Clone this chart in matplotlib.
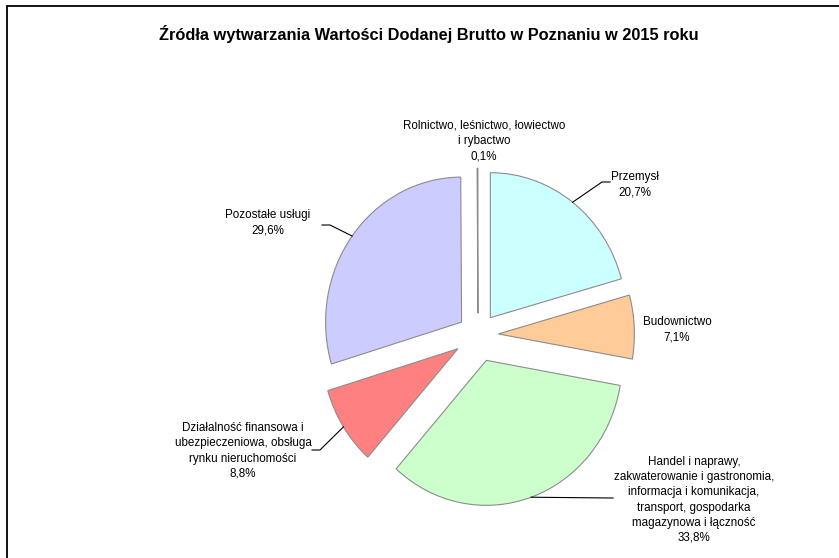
import matplotlib.pyplot as plt
import matplotlib.patches as mpatches
import numpy as np

plt.rcParams['font.family'] = ['Liberation Sans', 'DejaVu Sans']

# slices clockwise from 12 o'clock
sectors = [
    "Przemysł",
    "Budownictwo",
    "Handel i naprawy,\nzakwaterowanie i gastronomia,\ninformacja i komunikacja,\ntransport, gospodarka\nmagazynowa i łączność",
    "Działalność finansowa i\nubezpieczeniowa, obsługa\nrynku nieruchomości",
    "Pozostałe usługi",
    "Rolnictwo, leśnictwo, łowiectwo\ni rybactwo",
]
shares = [20.7, 7.1, 33.8, 8.8, 29.6, 0.1]
colors = ["#CCFFFF", "#FFCC99", "#CCFFCC", "#FF8080", "#CCCCFF", "#99CCFF"]

W, H = 839, 558
fig = plt.figure(figsize=(W / 100, H / 100), dpi=100)

# pie centre / radii in pixels (slightly taller than wide, like the original)
cx, cy = 478, 335
rx, ry = 136, 145
lim = 1.5
ax = fig.add_axes([(cx - rx * lim) / W, (H - cy - ry * lim) / H,
                   2 * rx * lim / W, 2 * ry * lim / H])

wedges, _ = ax.pie(shares, colors=colors, startangle=90, counterclock=False,
                   explode=[0.15, 0.15, 0.185, 0.175, 0.15, 0.15],
                   wedgeprops=dict(edgecolor="#8c8c8c", linewidth=0.8))
ax.set_xlim(-lim, lim)
ax.set_ylim(-lim, lim)
ax.set_aspect('auto')
ax.axis('off')

fig.text(428.5 / W, 1 - 34 / H, "Źródła wytwarzania Wartości Dodanej Brutto w Poznaniu w 2015 roku",
         ha="center", va="center", fontsize=11.8, fontweight="bold")

# label layout: text centre and leader points (pixels from top-left)
label_pos = [(635, 185), (677, 330), (694, 500), (243, 451), (268, 223), (484, 141)]
leaders = [
    [(602, 182), (610, 182)],
    None,
    [(613, 498)],
    [(320, 450), (312, 450)],
    [(330, 225), (322, 225)],
    None,
]

fig.canvas.draw()
for w, name, v, (tx, ty), lead in zip(wedges, sectors, shares, label_pos, leaders):
    txt = name + "\n" + f"{v:.1f}".replace(".", ",") + "%"
    fig.text(tx / W, 1 - ty / H, txt, ha="center", va="center",
             fontsize=8.4, linespacing=1.34)
    if lead is None:
        continue
    mid = np.deg2rad((w.theta1 + w.theta2) / 2)
    px = w.center[0] + w.r * np.cos(mid)
    py = w.center[1] + w.r * np.sin(mid)
    dx, dy = ax.transData.transform((px, py))
    xs = [dx] + [p[0] for p in lead]
    ys = [dy] + [H - p[1] for p in lead]
    fig.add_artist(plt.Line2D(xs, ys, transform=None, color="black", linewidth=0.8))

# chart frame (cut off on the right and bottom as in the original)
fig.add_artist(mpatches.Rectangle((7, -20), W + 40, H - 6 + 20, transform=None,
                                  fill=False, edgecolor="black", linewidth=1.3))

plt.savefig("out.png", dpi=100)
plt.close()
